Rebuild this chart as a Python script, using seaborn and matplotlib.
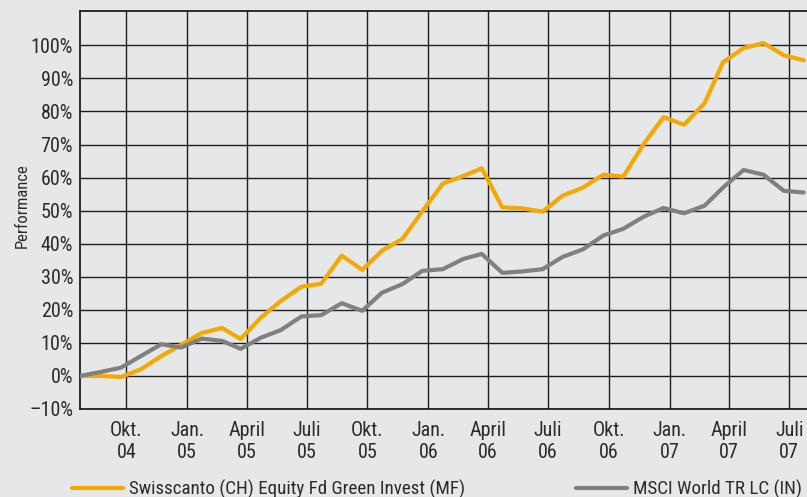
import pandas as pd
import numpy as np
import matplotlib
matplotlib.use("Agg")
import matplotlib.pyplot as plt
import seaborn as sns
from matplotlib.lines import Line2D

# ---- data ----
dates = ["2004-07-23", "2004-08-23", "2004-09-23", "2004-10-23", "2004-11-23", "2004-12-23",
         "2005-01-23", "2005-02-23", "2005-03-23", "2005-04-23", "2005-05-23", "2005-06-23",
         "2005-07-23", "2005-08-23", "2005-09-23", "2005-10-23", "2005-11-23", "2005-12-23",
         "2006-01-23", "2006-02-23", "2006-03-23", "2006-04-23", "2006-05-23", "2006-06-23",
         "2006-07-23", "2006-08-23", "2006-09-23", "2006-10-23", "2006-11-23", "2006-12-23",
         "2007-01-23", "2007-02-23", "2007-03-23", "2007-04-23", "2007-05-23", "2007-06-23",
         "2007-07-23"]
fund = [0, 0, -0.3, 2, 6, 9.4,
        13, 14.5, 11.2, 17.7, 22.7, 27,
        27.9, 36.4, 32.1, 37.9, 41.5, 49.8,
        58.2, 60.5, 62.8, 51, 50.7, 49.7,
        54.5, 57, 60.9, 60.3, 70.2, 78.3,
        76, 82.5, 94.9, 99.2, 100.7, 97,
        95.5]
index = [0, 1.2, 2.5, 6, 9.6, 8.6,
         11.3, 10.6, 8.2, 11.6, 13.9, 18,
         18.4, 22, 19.7, 25.2, 27.8, 31.8,
         32.3, 35.4, 36.9, 31.2, 31.6, 32.3,
         36, 38.3, 42.5, 44.5, 48.2, 50.8,
         49.2, 51.5, 57, 62.3, 60.9, 56,
         55.5]
series_names = ["Swisscanto (CH) Equity Fd Green Invest (MF)", "MSCI World TR LC (IN)"]
tick_dates = ["2004-10-01", "2005-01-01", "2005-04-01", "2005-07-01", "2005-10-01", "2006-01-01",
              "2006-04-01", "2006-07-01", "2006-10-01", "2007-01-01", "2007-04-01", "2007-07-01"]
tick_labels = ["Okt.\n04", "Jan.\n05", "April\n05", "Juli\n05", "Okt.\n05", "Jan.\n06",
               "April\n06", "Juli\n06", "Okt.\n06", "Jan.\n07", "April\n07", "Juli\n07"]
y_ticks = [-10, 0, 10, 20, 30, 40, 50, 60, 70, 80, 90, 100]
y_labels = ["\u201310%"] + [f"{v}%" for v in y_ticks[1:]]

df = pd.DataFrame({
    "Datum": pd.to_datetime(dates * 2),
    "Wert": fund + index,
    "Serie": [series_names[0]] * len(dates) + [series_names[1]] * len(dates),
})

# ---- style ----
bg = "#e6e7e9"
sns.set_theme(style="white")
plt.rcParams["font.family"] = ["Liberation Sans Narrow", "Roboto Condensed",
                               "Open Sans Condensed", "Roboto", "DejaVu Sans"]
txt = "#2b2b2b"

fig = plt.figure(figsize=(8.07, 4.97), dpi=100, facecolor=bg)
ax = fig.add_axes([80 / 807, 1 - 409 / 497, 1 - 80 / 807, (409 - 11) / 497])
ax.set_facecolor(bg)

palette = {series_names[0]: "#f5a800", series_names[1]: "#808080"}
sns.lineplot(data=df, x="Datum", y="Wert", hue="Serie", palette=palette,
             linewidth=3.0, ax=ax, legend=False, zorder=3)

ax.set_xlim(pd.Timestamp("2004-07-23"), pd.Timestamp("2007-07-28"))
ax.set_ylim(-10, 110.4)

ax.set_xticks(pd.to_datetime(tick_dates))
ax.set_xticklabels(tick_labels)
ax.set_yticks(y_ticks)
ax.set_yticklabels(y_labels)
ax.tick_params(axis="both", length=0, labelsize=14.5, colors=txt)
ax.tick_params(axis="x", pad=9)
ax.tick_params(axis="y", pad=5)
for lab in ax.get_xticklabels():
    lab.set_linespacing(1.15)

ax.grid(True, color="#1e1e1e", linewidth=1.0)
ax.set_axisbelow(True)
for s in ["left", "bottom", "top"]:
    ax.spines[s].set_visible(True)
    ax.spines[s].set_color("#1e1e1e")
    ax.spines[s].set_linewidth(1.3)
ax.spines["right"].set_visible(False)

ax.set_xlabel("")
ax.set_ylabel("Performance", fontsize=12, color=txt)
ax.yaxis.set_label_coords(-0.069, 0.51)

# legends
h0 = Line2D([], [], color=palette[series_names[0]], linewidth=3.0)
h1 = Line2D([], [], color=palette[series_names[1]], linewidth=3.0)
ly = 1 - 489 / 497
leg0 = fig.legend([h0], [series_names[0]], loc="center left", bbox_to_anchor=(72 / 807, ly),
                  frameon=False, fontsize=13.7, handlelength=2.7, handletextpad=0.3,
                  borderpad=0, borderaxespad=0)
leg1 = fig.legend([h1], [series_names[1]], loc="center right", bbox_to_anchor=(802 / 807, ly),
                  frameon=False, fontsize=13.7, handlelength=2.7, handletextpad=0.3,
                  borderpad=0, borderaxespad=0)
for leg in (leg0, leg1):
    for t in leg.get_texts():
        t.set_color(txt)

fig.savefig("out.png", dpi=100, facecolor=bg)
